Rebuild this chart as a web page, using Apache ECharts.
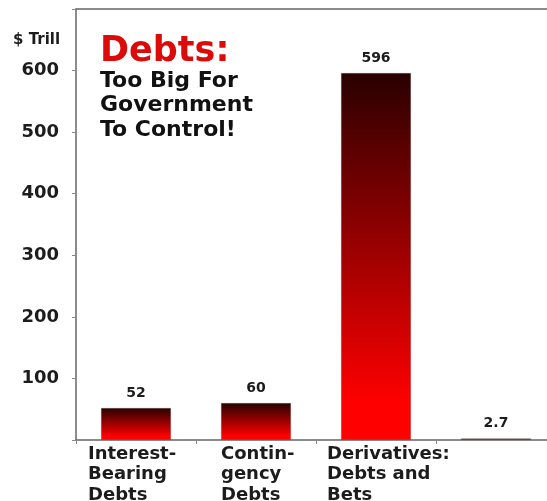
<!DOCTYPE html>
<html>
<head>
<meta charset="utf-8">
<script src="https://cdn.jsdelivr.net/npm/echarts@6/dist/echarts.min.js"></script>
<style>
  html, body { margin: 0; padding: 0; background: #fff; }
  #chart { width: 547px; height: 501px; }
</style>
</head>
<body>
<div id="chart"></div>
<script>
// 数据
const categories = ['Interest-\nBearing\nDebts', 'Contin-\ngency\nDebts', 'Derivatives:\nDebts and\nBets', '']
const values = [52, 60, 596, 2.7]
const yTicks = [100, 200, 300, 400, 500, 600]

const font = 'DejaVu Sans'
// 每个类目标签的盒子宽度（让多行文字左对齐）
const labelWidths = [96, 70, 98, 60]

const rich = {}
labelWidths.forEach((w, i) => {
  rich['x' + i] = {
    width: w,
    align: 'left',
    fontFamily: font,
    fontWeight: 'bold',
    fontSize: 18,
    lineHeight: 20.5,
    color: '#1c1c1c'
  }
})

// 最后一根柱子太矮，原图是暗红色细线
const barData = values.map((v, i) => i === 3 ? { value: v, itemStyle: { color: '#7a1c1c' } } : v)

const myChart = echarts.init(document.getElementById('chart'))
const option = {
  animation: false,
  title: [
    {
      text: 'Debts:',
      subtext: 'Too Big For\nGovernment\nTo Control!',
      left: 100,
      top: 34,
      padding: 0,
      itemGap: 0,
      textStyle: { color: '#dd0a0a', fontFamily: font, fontWeight: 'bold', fontSize: 35 },
      subtextStyle: { color: '#111', fontFamily: font, fontWeight: 'bold', fontSize: 22, lineHeight: 24.5 }
    },
    {
      text: '$ Trill',
      left: 13,
      top: 33,
      padding: 0,
      textStyle: { color: '#1c1c1c', fontFamily: font, fontWeight: 'bold', fontSize: 15 }
    }
  ],
  grid: { left: 76, top: 9, width: 480, bottom: 61, outerBoundsMode: 'none' },
  xAxis: [
    {
      type: 'category',
      data: categories,
      boundaryGap: true,
      axisLine: { show: true, lineStyle: { color: '#666', width: 1.5 } },
      axisTick: { show: true, length: 4, lineStyle: { color: '#888' } },
      axisLabel: {
        interval: 0,
        margin: 4,
        formatter: (value, idx) => value ? value.split('\n').map(s => '{x' + idx + '|' + s + '}').join('\n') : '',
        rich: rich
      }
    },
    {
      // 顶部边框线
      type: 'category',
      position: 'top',
      data: categories,
      axisLine: { show: true, lineStyle: { color: '#666', width: 1.5 } },
      axisTick: { show: false },
      axisLabel: { show: false }
    }
  ],
  yAxis: {
    type: 'value',
    min: 0,
    max: 700,
    interval: 100,
    axisLine: { show: true, lineStyle: { color: '#666', width: 1.5 } },
    axisTick: { show: true, length: 4, lineStyle: { color: '#888' } },
    splitLine: { show: false },
    axisLabel: {
      margin: 17,
      fontFamily: font,
      fontWeight: 'bold',
      fontSize: 18,
      color: '#1c1c1c',
      formatter: v => yTicks.includes(v) ? String(v) : ''
    }
  },
  series: [
    {
      type: 'bar',
      data: barData,
      barWidth: 70,
      itemStyle: {
        borderColor: 'rgba(90,90,90,0.5)',
        borderWidth: 0.6,
        color: {
          type: 'linear', x: 0, y: 0, x2: 0, y2: 1,
          colorStops: [
            { offset: 0, color: '#2a0000' },
            { offset: 0.9, color: '#ff0000' },
            { offset: 1, color: '#ff0000' }
          ]
        }
      },
      label: {
        show: true,
        position: 'top',
        distance: 8,
        fontFamily: font,
        fontWeight: 'bold',
        fontSize: 14,
        color: '#1c1c1c'
      }
    }
  ]
}
myChart.setOption(option)
</script>
</body>
</html>
